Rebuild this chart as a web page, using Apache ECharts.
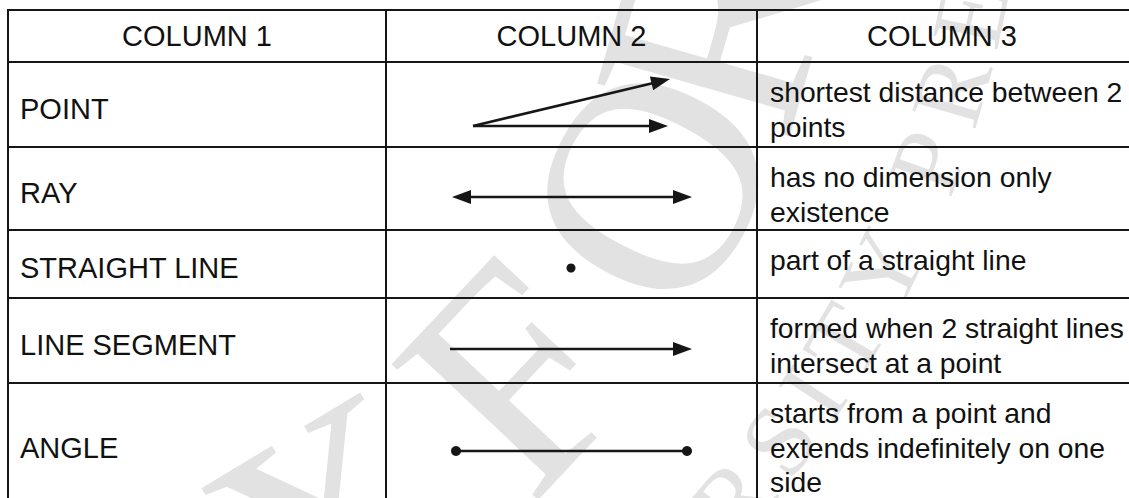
<!DOCTYPE html>
<html>
<head>
<meta charset="utf-8">
<script src="https://cdn.jsdelivr.net/npm/echarts@6/dist/echarts.min.js"></script>
<style>
html,body{margin:0;padding:0;background:#ffffff;}
#chart{width:1129px;height:498px;}
</style>
</head>
<body>
<div id="chart"></div>
<script>
// ---------- content ----------
const headers = ['COLUMN 1', 'COLUMN 2', 'COLUMN 3'];
const terms = ['POINT', 'RAY', 'STRAIGHT LINE', 'LINE SEGMENT', 'ANGLE'];
const definitions = [
  ['shortest distance between 2', 'points'],
  ['has no dimension only', 'existence'],
  ['part of a straight line'],
  ['formed when 2 straight lines', 'intersect at a point'],
  ['starts from a point and', 'extends indefinitely on one', 'side']
];
// figure geometry in column 2, in table units: [x1, y1, x2, y2]
const figureSegments = [
  [473, 126, 670, 79],
  [473, 126, 668, 126],
  [452, 197, 692, 197],
  [450, 349, 692, 349],
  [456, 451, 687, 451]
];
// end caps of each segment: [start, end]
const figureCaps = [
  ['none', 'arrow'],
  ['none', 'arrow'],
  ['arrow', 'arrow'],
  ['none', 'arrow'],
  ['dot', 'dot']
];
const figurePoints = [[571, 268]];
const watermarkWords = ['OXFORD', 'UNIVERSITY PRESS'];

// ---------- layout (not data) ----------
const layout = {
  width: 1129, height: 498,
  rowEdges: [10, 62, 147, 230, 298, 383, 505],
  colEdges: [8, 386, 757, 1127],
  padX: 12,
  defFirst: 30, defStep: 34.5,
  termShift: 4
};
const ink = '#161616';
const textFont = '29px "Liberation Sans", Arial, sans-serif';
const defFont = '28.3px "Liberation Sans", Arial, sans-serif';
const wmFamily = '"Liberation Serif", "DejaVu Serif", serif';
const wmColor = '#e2e2e2';
const wmCenter = [-115, -217];

// rules built from layout
const ruleSegments = [];
for (let i = 0; i < layout.rowEdges.length - 1; i++) {
  ruleSegments.push([layout.colEdges[0] - 1, layout.rowEdges[i], layout.width + 2, layout.rowEdges[i]]);
}
for (let j = 0; j < 3; j++) {
  ruleSegments.push([layout.colEdges[j], layout.rowEdges[0] - 1, layout.colEdges[j], layout.height + 5]);
}

// text items built from content + layout
const textItems = [];
headers.forEach((h, j) => {
  textItems.push({ value: [(layout.colEdges[j] + layout.colEdges[j + 1]) / 2, (layout.rowEdges[0] + layout.rowEdges[1]) / 2], text: h, align: 'center', font: textFont });
});
terms.forEach((t, i) => {
  const top = layout.rowEdges[i + 1], bot = layout.rowEdges[i + 2];
  textItems.push({ value: [layout.colEdges[0] + layout.padX, (top + bot) / 2 + layout.termShift], text: t, align: 'left', font: textFont });
});
definitions.forEach((lines, i) => {
  const top = layout.rowEdges[i + 1];
  lines.forEach((ln, k) => {
    textItems.push({ value: [layout.colEdges[2] + 13, top + layout.defFirst + k * layout.defStep], text: ln, align: 'left', font: defFont });
  });
});

// watermark letters placed along concentric arcs
function arcText(str, fontPx, radius, anchorIndex, anchorDeg, gaps) {
  const ctx = document.createElement('canvas').getContext('2d');
  const font = fontPx + 'px ' + wmFamily;
  ctx.font = font;
  const chars = Array.from(str);
  const centers = [];
  let s = 0;
  chars.forEach(function (ch, i) {
    const w = ctx.measureText(ch).width;
    centers.push(s + w / 2);
    s += w + (Array.isArray(gaps) ? (gaps[i] || 0) : gaps);
  });
  const a0 = anchorDeg * Math.PI / 180;
  const out = [];
  chars.forEach(function (ch, i) {
    if (ch === ' ') return;
    const phi = a0 + (centers[anchorIndex] - centers[i]) / radius;
    out.push({
      type: 'text', silent: true, z: 0,
      x: wmCenter[0] + radius * Math.cos(phi),
      y: wmCenter[1] + radius * Math.sin(phi),
      rotation: Math.PI / 2 - phi,
      style: { text: ch, font: font, fill: wmColor, align: 'center', verticalAlign: 'middle' }
    });
  });
  return out;
}
const watermark = arcText(watermarkWords[0], 305, 864, 3, 27.7, [40, 40, 40, -35, 0])
  .concat(arcText(watermarkWords[1], 100, 1110, 9, 26, 14));

const chart = echarts.init(document.getElementById('chart'), null, { renderer: 'svg' });

function arrowHead(tip, from, len, half) {
  const dx = tip[0] - from[0], dy = tip[1] - from[1];
  const d = Math.sqrt(dx * dx + dy * dy);
  const ux = dx / d, uy = dy / d;
  const bx = tip[0] - ux * len, by = tip[1] - uy * len;
  return {
    base: [bx, by],
    points: [tip, [bx - uy * half, by + ux * half], [bx + uy * half, by - ux * half]]
  };
}

const option = {
  animation: false,
  backgroundColor: '#ffffff',
  grid: { left: 0, right: 0, top: 0, bottom: 0 },
  xAxis: { type: 'value', min: 0, max: layout.width, show: false },
  yAxis: { type: 'value', min: 0, max: layout.height, inverse: true, show: false },
  graphic: watermark,
  series: [
    {
      name: 'rules', type: 'custom', coordinateSystem: 'cartesian2d', z: 3, silent: true,
      data: ruleSegments,
      renderItem: function (params, api) {
        const a = api.coord([api.value(0), api.value(1)]);
        const b = api.coord([api.value(2), api.value(3)]);
        return { type: 'line', shape: { x1: a[0], y1: a[1], x2: b[0], y2: b[1] }, style: { stroke: ink, lineWidth: 2 } };
      }
    },
    {
      name: 'figures', type: 'custom', coordinateSystem: 'cartesian2d', z: 4, silent: true,
      data: figureSegments,
      renderItem: function (params, api) {
        const a = api.coord([api.value(0), api.value(1)]);
        const b = api.coord([api.value(2), api.value(3)]);
        const caps = figureCaps[params.dataIndex];
        const children = [];
        let s = a.slice(), e = b.slice();
        const L = 19, H = 7;
        [[caps[0], a, b, 0], [caps[1], b, a, 1]].forEach(function (c) {
          if (c[0] === 'arrow') {
            const h = arrowHead(c[1], c[2], L, H);
            children.push({ type: 'polygon', shape: { points: h.points }, style: { fill: ink } });
            const base = arrowHead(c[1], c[2], L - 3, H).base;
            if (c[3] === 0) s = base; else e = base;
          } else if (c[0] === 'dot') {
            children.push({ type: 'circle', shape: { cx: c[1][0], cy: c[1][1], r: 5 }, style: { fill: ink } });
          }
        });
        children.unshift({ type: 'line', shape: { x1: s[0], y1: s[1], x2: e[0], y2: e[1] }, style: { stroke: ink, lineWidth: 2.6 } });
        return { type: 'group', children: children };
      }
    },
    {
      name: 'points', type: 'custom', coordinateSystem: 'cartesian2d', z: 4, silent: true,
      data: figurePoints,
      renderItem: function (params, api) {
        const p = api.coord([api.value(0), api.value(1)]);
        return { type: 'circle', shape: { cx: p[0], cy: p[1], r: 4.5 }, style: { fill: ink } };
      }
    },
    {
      name: 'texts', type: 'custom', coordinateSystem: 'cartesian2d', z: 5, silent: true,
      data: textItems.map(function (t) { return t.value; }),
      renderItem: function (params, api) {
        const t = textItems[params.dataIndex];
        const p = api.coord([api.value(0), api.value(1)]);
        return {
          type: 'text', x: p[0], y: p[1],
          style: { text: t.text, font: t.font, fill: '#111111', align: t.align, verticalAlign: 'middle' }
        };
      }
    }
  ]
};
chart.setOption(option);
</script>
</body>
</html>
